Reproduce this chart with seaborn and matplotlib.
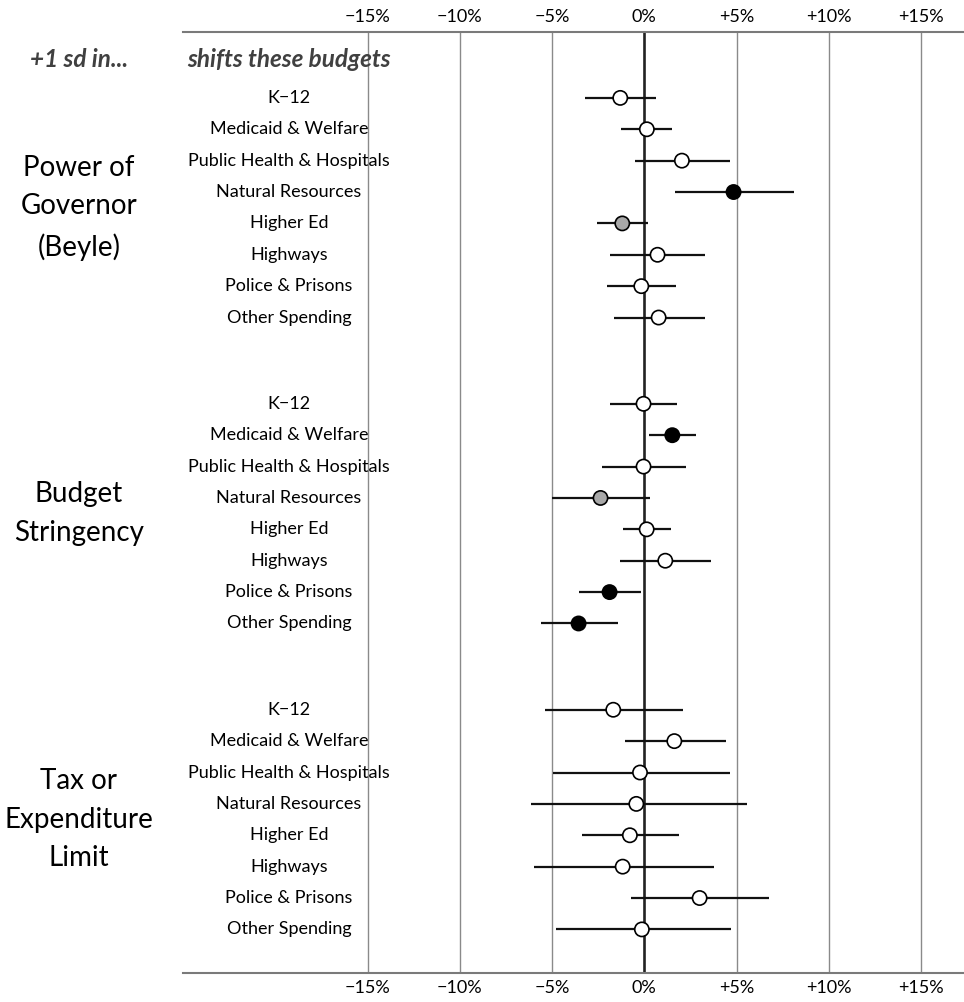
import matplotlib
matplotlib.use("Agg")
import matplotlib.pyplot as plt
import matplotlib.transforms as mtransforms
import seaborn as sns
import pandas as pd

sns.set_theme(style="white")
plt.rcParams["font.family"] = ["Lato", "DejaVu Sans"]

# Institutional features (one panel each) and the budget categories they shift
groups = ["Power of\nGovernor\n(Beyle)", "Budget\nStringency", "Tax or\nExpenditure\nLimit"]
budgets = ["K\u221212", "Medicaid & Welfare", "Public Health & Hospitals",
           "Natural Resources", "Higher Ed", "Highways", "Police & Prisons",
           "Other Spending"]

# Estimated shift in budget share (percent) with confidence bounds
gov_est = [-1.30, 0.14, 2.04, 4.84, -1.19, 0.72, -0.16, 0.78]
gov_lo = [-3.23, -1.25, -0.49, 1.68, -2.55, -1.84, -2.00, -1.66]
gov_hi = [0.65, 1.52, 4.63, 8.09, 0.20, 3.31, 1.72, 3.27]
gov_sig = ["no", "no", "no", "p95", "p90", "no", "no", "no"]

str_est = [-0.04, 1.52, -0.04, -2.37, 0.13, 1.14, -1.88, -3.56]
str_lo = [-1.88, 0.25, -2.29, -4.98, -1.17, -1.34, -3.52, -5.60]
str_hi = [1.79, 2.82, 2.24, 0.33, 1.43, 3.61, -0.18, -1.42]
str_sig = ["no", "p95", "no", "p90", "no", "no", "p95", "p95"]

tel_est = [-1.68, 1.63, -0.23, -0.43, -0.78, -1.17, 3.00, -0.13]
tel_lo = [-5.38, -1.05, -4.95, -6.16, -3.38, -5.96, -0.70, -4.78]
tel_hi = [2.11, 4.43, 4.64, 5.58, 1.86, 3.79, 6.77, 4.71]
tel_sig = ["no"] * 8

tick_vals = [-15, -10, -5, 0, 5, 10, 15]
tick_labels = ["\u221215%", "\u221210%", "\u22125%", "0%", "+5%", "+10%", "+15%"]

panel_gap = 9.75  # rows per panel plus spacing between panels

frames = []
for g, (est, lo, hi, sig) in enumerate([(gov_est, gov_lo, gov_hi, gov_sig),
                                        (str_est, str_lo, str_hi, str_sig),
                                        (tel_est, tel_lo, tel_hi, tel_sig)]):
    frames.append(pd.DataFrame({
        "group": g,
        "budget": budgets,
        "est": est,
        "lo": lo,
        "hi": hi,
        "sig": sig,
        "ypos": [i + panel_gap * g for i in range(len(budgets))],
    }))
df = pd.concat(frames, ignore_index=True)

fig = plt.figure(figsize=(9.64, 10.02), dpi=100)
W, H = 964, 1002
ax_left, ax_right, ax_top, ax_bottom = 183, 964, 32, 972.7
ax = fig.add_axes([ax_left / W, 1 - ax_bottom / H,
                   (ax_right - ax_left) / W, (ax_bottom - ax_top) / H])

ax.set_xlim(-25, 17.33)
ax.set_ylim(27.88, -2.10)

# Reference lines
for v in tick_vals:
    if v == 0:
        ax.axvline(v, color="#222222", lw=1.9, zorder=1)
    else:
        ax.axvline(v, color="#8a8a8a", lw=1.0, zorder=0)

# Confidence intervals
ax.hlines(df["ypos"], df["lo"], df["hi"], color="#111111", lw=1.6, zorder=2)

# Point estimates, shaded by significance
sns.scatterplot(data=df, x="est", y="ypos", hue="sig",
                palette={"no": "white", "p90": "#a8a8a8", "p95": "black"},
                edgecolor="black", linewidth=1.2, s=105, legend=False,
                zorder=3, ax=ax)

ax.set_xticks(tick_vals)
ax.set_xticklabels(tick_labels)
ax.set_yticks([])
ax.set_xlabel("")
ax.set_ylabel("")
ax.tick_params(axis="x", top=True, labeltop=True, bottom=True, labelbottom=True,
               length=0, labelsize=13, pad=5, colors="black")
for side in ["left", "right"]:
    ax.spines[side].set_visible(False)
for side in ["top", "bottom"]:
    ax.spines[side].set_visible(True)
    ax.spines[side].set_color("#7a7a7a")
    ax.spines[side].set_linewidth(1.5)

# Row and panel labels
trans = mtransforms.blended_transform_factory(fig.transFigure, ax.transData)
for _, row in df.iterrows():
    fig.text(289 / W, row["ypos"], row["budget"], transform=trans,
             ha="center", va="center", fontsize=13, color="black")

for g, name in enumerate(groups):
    ymid = panel_gap * g + (len(budgets) - 1) / 2
    fig.text(79 / W, ymid, name, transform=trans, ha="center", va="center",
             fontsize=20, linespacing=1.6, color="black")

fig.text(79 / W, -1.21, "+1 sd in...", transform=trans, ha="center", va="center",
         fontsize=17.5, fontweight="bold", style="italic", color="#404040")
fig.text(289 / W, -1.21, "shifts these budgets", transform=trans, ha="center",
         va="center", fontsize=17.5, fontweight="bold", style="italic", color="#404040")

fig.savefig("out.png", dpi=100)
